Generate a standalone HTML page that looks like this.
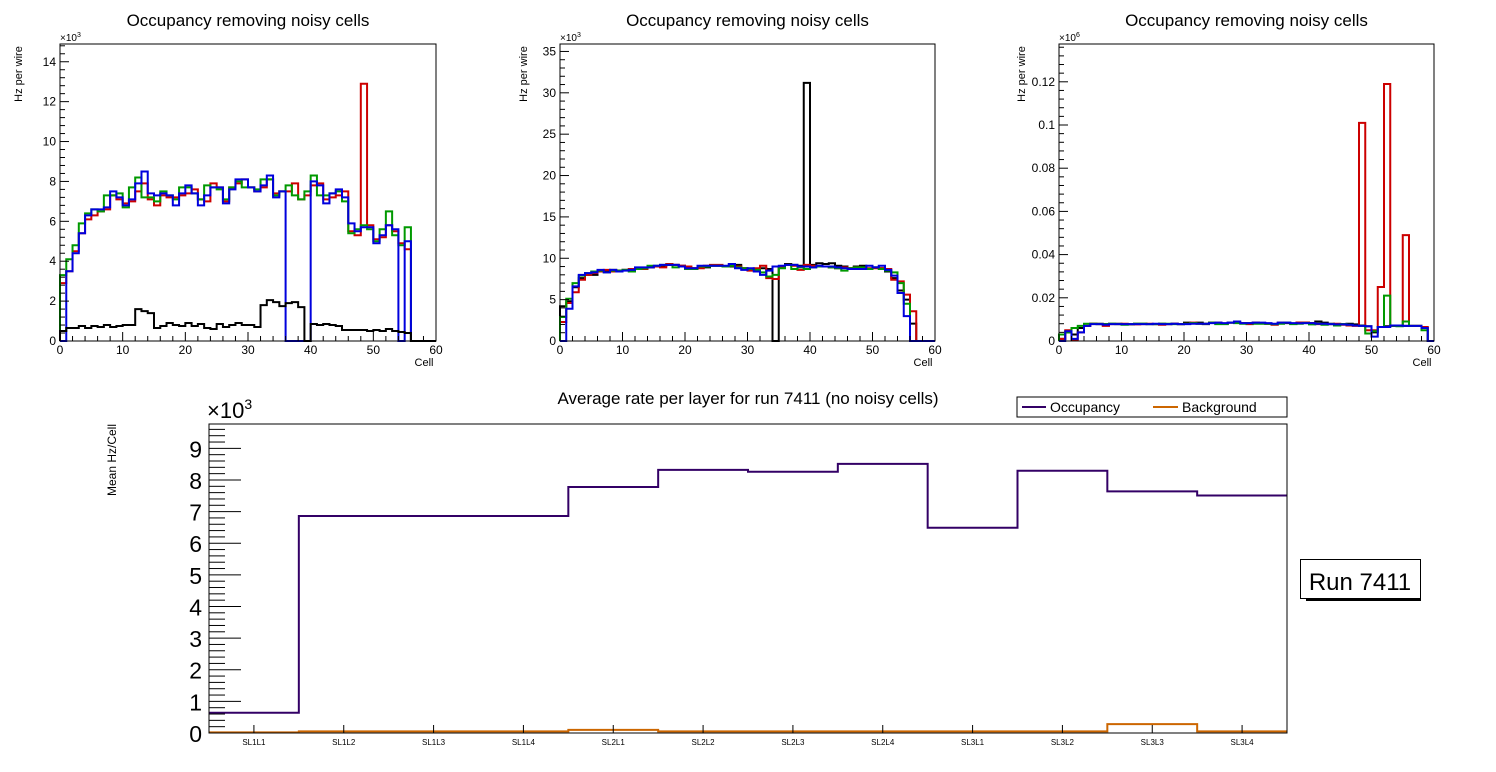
<!DOCTYPE html>
<html><head><meta charset="utf-8"><style>
body{margin:0;background:#fff;width:1496px;height:772px;overflow:hidden;font-family:"Liberation Sans",Arial,sans-serif}
svg{position:absolute;left:0;top:0}
</style></head><body>
<svg id="s" width="1496" height="772" xmlns="http://www.w3.org/2000/svg" font-family="Liberation Sans, Arial, sans-serif"></svg>
<script>
// Panel 1 (x10^3)
const p1Red=[2.9,3.5,4.5,5.4,6.1,6.3,6.5,6.6,7.3,7.1,6.9,7.0,7.5,7.9,7.1,6.8,7.3,7.2,7.2,7.3,7.4,7.6,7.1,7.0,7.9,7.7,7.0,7.7,7.9,8.1,7.7,7.5,7.7,8.1,7.4,7.5,7.5,7.9,7.1,7.3,7.8,7.9,7.1,7.2,7.3,7.5,5.5,5.3,12.9,5.8,5.1,5.2,5.8,5.5,4.9,4.6,0,0,0,0];
const p1Green=[3.3,4.1,4.8,5.9,6.4,6.6,6.5,7.3,7.3,7.4,6.7,7.7,8.2,7.2,7.2,7.0,7.5,7.3,7.1,7.7,7.7,7.4,7.1,7.8,7.7,7.6,7.1,7.7,8.0,7.7,7.7,7.6,8.1,8.1,7.3,7.5,7.8,7.3,7.1,7.5,8.3,7.3,7.3,7.4,7.5,7.0,5.4,5.6,5.8,5.6,5.0,5.6,6.5,5.3,4.8,5.7,0,0,0,0];
const p1Blue=[0,3.5,4.4,5.4,6.3,6.6,6.6,6.7,7.5,7.2,6.8,7.1,7.9,8.5,7.4,7.3,7.4,7.3,6.8,7.4,7.8,7.4,6.8,7.3,7.7,7.7,6.9,7.6,8.1,8.1,7.7,7.5,7.8,8.3,7.2,7.5,0,0,0,0,8.0,7.8,6.9,7.4,7.6,7.2,5.9,5.5,5.7,5.7,4.9,5.3,5.8,5.6,0,5.0,0,0,0,0];
const p1Black=[0.5,0.65,0.65,0.75,0.65,0.75,0.7,0.8,0.7,0.75,0.8,0.8,1.6,1.5,1.4,0.65,0.75,0.9,0.8,0.75,0.9,0.75,0.85,0.65,0.6,0.85,0.7,0.8,0.9,0.8,0.8,0.7,1.8,2.05,1.95,1.75,1.9,1.95,1.7,0,0.85,0.8,0.85,0.8,0.75,0.55,0.55,0.55,0.55,0.5,0.55,0.5,0.6,0.5,0.45,0.4,0,0,0,0];
// Panel 2 (x10^3)
const p2Black=[4.2,4.8,6.5,7.6,8.0,8.0,8.5,8.4,8.6,8.5,8.6,8.6,8.8,8.7,8.9,9.0,9.1,9.2,9.2,9.1,9.0,8.8,9.0,8.9,9.1,9.1,9.0,9.0,9.2,8.8,8.6,8.7,8.8,8.7,0,8.9,9.3,9.2,9.1,31.2,9.2,9.4,9.3,9.4,9.1,9.0,8.8,9.0,9.1,8.7,8.9,8.8,8.4,7.6,6.1,5.0,2.1,0,0,0];
const p2Red=[2.3,4.6,5.9,7.4,8.0,8.2,8.4,8.6,8.4,8.5,8.6,8.7,8.8,8.7,8.9,9.0,8.9,9.3,9.2,9.1,9.0,8.8,8.8,9.1,9.2,9.2,9.0,9.1,9.0,8.8,8.5,8.8,9.1,7.6,7.5,9.0,9.2,9.1,8.6,9.2,9.1,9.0,9.0,8.9,8.8,8.9,8.8,8.9,8.8,8.8,8.8,8.8,8.7,7.4,7.2,5.6,3.6,0,0,0];
const p2Green=[2.9,5.1,7.0,7.9,8.2,8.4,8.5,8.3,8.5,8.5,8.6,8.4,8.7,8.8,9.1,9.1,9.2,9.2,8.9,9.0,8.7,8.7,9.0,9.0,9.1,9.1,9.0,9.1,8.9,8.8,8.7,8.6,8.3,7.8,8.0,8.8,9.2,8.7,8.9,8.7,8.9,9.0,9.0,8.9,8.8,8.5,8.8,8.9,8.9,8.7,8.9,8.7,8.5,8.3,7.0,4.5,0,0,0,0];
const p2Blue=[0,3.9,6.6,8.0,8.2,8.3,8.6,8.3,8.6,8.4,8.5,8.6,8.9,8.9,8.9,9.1,9.2,9.2,9.2,9.0,8.8,8.8,9.1,9.1,9.1,9.1,9.1,9.3,8.8,8.6,8.8,8.4,8.0,8.5,9.0,9.1,9.2,9.2,9.0,9.0,8.9,9.1,9.0,9.0,8.9,8.8,8.7,8.7,8.7,9.1,8.9,9.1,8.6,7.9,5.8,3.0,0,0,0,0];
// Panel 3 (x10^6)
const p3Black=[0.001,0.004,0.003,0.006,0.007,0.008,0.008,0.0078,0.008,0.008,0.0078,0.0077,0.008,0.008,0.0078,0.0078,0.008,0.0078,0.008,0.0078,0.0085,0.0083,0.0085,0.0078,0.0085,0.0083,0.008,0.0085,0.0085,0.0083,0.0082,0.0085,0.0083,0.008,0.0078,0.0082,0.0083,0.008,0.0085,0.0085,0.0083,0.009,0.0085,0.008,0.0078,0.0078,0.008,0.0077,0.0072,0.0068,0.004,0.0065,0.0068,0.007,0.0072,0.007,0.007,0.007,0.006,0];
const p3Red=[0.001,0.005,0.0005,0.004,0.007,0.008,0.0078,0.007,0.0078,0.0078,0.008,0.0078,0.0077,0.0078,0.008,0.0078,0.0075,0.0078,0.008,0.0078,0.008,0.0085,0.008,0.008,0.0085,0.0085,0.008,0.0085,0.0085,0.0082,0.0078,0.0085,0.0083,0.008,0.0075,0.0085,0.0085,0.008,0.0085,0.0085,0.0083,0.0078,0.0078,0.0078,0.008,0.0075,0.0072,0.007,0.101,0.005,0.005,0.025,0.119,0.007,0.007,0.049,0.007,0.007,0.0065,0];
const p3Green=[0.003,0.004,0.006,0.007,0.008,0.008,0.0078,0.0078,0.008,0.0078,0.0075,0.0078,0.008,0.008,0.0078,0.0078,0.008,0.008,0.0078,0.0078,0.008,0.0083,0.008,0.008,0.0085,0.0078,0.0078,0.0085,0.0083,0.008,0.0083,0.008,0.008,0.008,0.0078,0.008,0.0085,0.0078,0.008,0.0083,0.0077,0.008,0.0075,0.0078,0.0072,0.0078,0.0075,0.0072,0.007,0.0035,0.0045,0.0065,0.021,0.007,0.0068,0.009,0.007,0.007,0.005,0];
const p3Blue=[0,0.0045,0.001,0.004,0.007,0.0078,0.0078,0.0075,0.0078,0.0078,0.0078,0.0078,0.0078,0.0078,0.0078,0.008,0.0078,0.0078,0.008,0.0078,0.0078,0.008,0.008,0.008,0.0083,0.0085,0.0083,0.0085,0.009,0.0083,0.0083,0.0085,0.0085,0.0083,0.008,0.0085,0.0085,0.0083,0.0082,0.0083,0.0083,0.008,0.008,0.0078,0.0077,0.0077,0.0075,0.0072,0.007,0.0068,0.002,0.0065,0.0065,0.0072,0.0072,0.007,0.007,0.007,0.006,0];
// Bottom chart (x10^3)
const layers=["SL1L1","SL1L2","SL1L3","SL1L4","SL2L1","SL2L2","SL2L3","SL2L4","SL3L1","SL3L2","SL3L3","SL3L4"];
const occupancy=[0.64,6.86,6.86,6.86,7.78,8.32,8.26,8.51,6.49,8.29,7.64,7.51];
const background=[0.02,0.05,0.05,0.05,0.1,0.05,0.05,0.05,0.05,0.05,0.28,0.05];

const S=document.getElementById('s');
const NS='http://www.w3.org/2000/svg';
function mk(tag,at,parent){const e=document.createElementNS(NS,tag);for(const k in at)e.setAttribute(k,at[k]);(parent||S).appendChild(e);return e;}
function txt(x,y,s,size,anchor,parent,rot){const e=mk('text',{x:x,y:y,'font-size':size,'text-anchor':anchor||'middle',fill:'#000'},parent);if(rot)e.setAttribute('transform','rotate(-90 '+x+' '+y+')');e.textContent=s;return e;}

function panel(name,L,R,T,B,ymax,majStep,nMinor,fmt,expo,series,colors,ytitleX){
  const g=mk('g',{});
  
  
  const xs=v=>L+(R-L)*v/60, ys=v=>B-(B-T)*Math.min(v,ymax)/ymax;
  series.forEach((d,si)=>{
    let p='M'+xs(0)+','+ys(0);
    d.forEach((v,i)=>{p+=' L'+xs(i)+','+ys(v)+' L'+xs(i+1)+','+ys(v);});
    p+=' L'+xs(60)+','+ys(0);
    const e=mk('path',{d:p,fill:'none',stroke:colors[si],'stroke-width':2},g);
    
    
  });
  mk('rect',{x:L,y:T,width:R-L,height:B-T,fill:'none',stroke:'#000','stroke-width':1},g);
  const minor=majStep/nMinor;
  for(let k=0;k*minor<=ymax+1e-9;k++){const v=k*minor,y=ys(v);const maj=k%nMinor===0;
    mk('line',{x1:L,x2:L+(maj?9:5),y1:y,y2:y,stroke:'#000'},g);
    if(maj)txt(L-4,y+4,fmt(v),12,'end',g);}
  for(let v=0;v<=60;v+=2){const x=xs(v),maj=v%10===0;mk('line',{x1:x,x2:x,y1:B,y2:B-(maj?9:5),stroke:'#000'},g);
    if(maj)txt(x,B+13,String(v),12,'middle',g);}
  txt(R-12,B+25,'Cell',11,'middle',g);
  const ex=txt(L,T-3,'\u00d710',10,'start',g);
  const sup=mk('tspan',{dy:-4,'font-size':7},ex);sup.textContent=expo;
  txt(ytitleX,T+30,'Hz per wire',11,'middle',g,true);
  txt((L+R)/2,26,'Occupancy removing noisy cells',17,'middle',g);
}
panel('panel-1',60,436,44,341,14.89,2,5,v=>String(Math.round(v)),'3',[p1Red,p1Green,p1Blue,p1Black],['#cc0000','#009900','#0000dd','#000000'],22);
panel('panel-2',560,935,44,341,35.9,5,5,v=>String(Math.round(v)),'3',[p2Black,p2Red,p2Green,p2Blue],['#000000','#cc0000','#009900','#0000dd'],527);
panel('panel-3',1059,1434,44,341,0.1375,0.02,5,v=>(v<1e-9?'0':String(+v.toFixed(2))),'6',[p3Black,p3Red,p3Green,p3Blue],['#000000','#cc0000','#009900','#0000dd'],1025);

(function(){
  const L=209,R=1287,T=424,B=733,ymax=9.77;
  const g=mk('g',{});
  
  
  const bw=(R-L)/layers.length;
  const ys=v=>B-(B-T)*v/ymax;
  function step(d,c,n){let p='M'+L+','+ys(d[0]);d.forEach((v,i)=>{p+=' L'+(L+i*bw)+','+ys(v)+' L'+(L+(i+1)*bw)+','+ys(v);});
    const e=mk('path',{d:p,fill:'none',stroke:c,'stroke-width':2},g);
    
    }
  step(background,'#cc6600','background-line');
  step(occupancy,'#330066','occupancy-line');
  mk('rect',{x:L,y:T,width:R-L,height:B-T,fill:'none',stroke:'#000'},g);
  for(let k=0;k*0.2<=ymax;k++){const y=ys(k*0.2),maj=k%5===0;mk('line',{x1:L,x2:L+(maj?32:16),y1:y,y2:y,stroke:'#000'},g);
    if(maj)txt(L-7,y+9,String(k/5),23,'end',g);}
  layers.forEach((s,i)=>{const x=L+(i+0.5)*bw;mk('line',{x1:x,x2:x,y1:B,y2:B-8,stroke:'#000'},g);txt(x,B+12,s,8,'middle',g);});
  const ex=txt(L-2,T-6,'\u00d710',22,'start',g);const sp=mk('tspan',{dy:-9,'font-size':14},ex);sp.textContent='3';
  txt(116,460,'Mean Hz/Cell',12,'middle',g,true);
  txt(748,404,'Average rate per layer for run 7411 (no noisy cells)',17,'middle',g);
  const lg=mk('g',{});
  
  
  mk('rect',{x:1017,y:397,width:270,height:20,fill:'#fff',stroke:'#000'},lg);
  mk('line',{x1:1022,x2:1046,y1:407,y2:407,stroke:'#330066','stroke-width':2},lg);
  txt(1050,412,'Occupancy',14,'start',lg);
  mk('line',{x1:1153,x2:1178,y1:407,y2:407,stroke:'#cc6600','stroke-width':2},lg);
  txt(1182,412,'Background',14,'start',lg);
  const rb=mk('g',{});
  
  
  mk('rect',{x:1306,y:596,width:115,height:5,fill:'#000'},rb);
  mk('rect',{x:1300.5,y:559.5,width:120,height:39,fill:'#fff',stroke:'#000'},rb);
  txt(1360,590,'Run 7411',24,'middle',rb);
})();
</script>
</body></html>
